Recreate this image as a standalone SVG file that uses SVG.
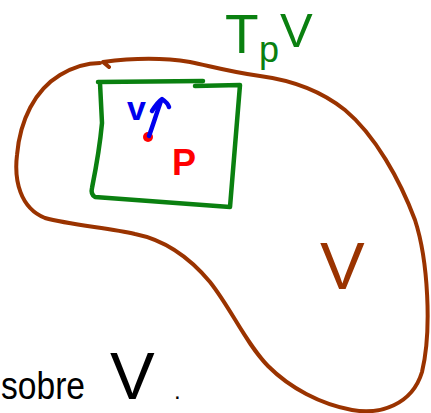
<svg xmlns="http://www.w3.org/2000/svg" width="431" height="413" viewBox="0 0 431 413">
<style>
.ink{fill:none;stroke-linecap:round;stroke-linejoin:round}
.brown{stroke:#9a3300;stroke-width:4}
.green{stroke:#0a8010;stroke-width:4.5}
.blue{stroke:#0000ee;stroke-width:4.5}
text{font-family:"Liberation Sans","DejaVu Sans",sans-serif}
</style>
<rect width="431" height="413" fill="#fff"/>
<g id="manifold">
<path class="ink brown" d="M109,67 L103,62 C125,59 160,57 190,62 C210,66 230,72 260,76 C290,80 320,90 345,110 C375,135 400,180 415,220 C428,260 432,330 422,372 C412,405 380,415 352,410 C320,404 290,388 268,366 C245,342 232,310 210,282 C190,258 165,240 135,234 C110,228 70,225 45,218 C20,208 14,180 17,155 C20,120 35,90 60,75 C75,66 88,63 100,63"/>
<text x="320" y="289" font-size="67" fill="#9a3300">V</text>
</g>
<g id="tangent-space">
<path class="ink green" d="M98,82 L203,81 M195,86 L240,85 L230,207 L95,197 C92,195 91,192 92,188 C96,168 100,145 102,123 L100,83"/>
<text fill="#0a8010"><tspan x="225" y="53" font-size="55">T</tspan><tspan x="259" y="62" font-size="36">p</tspan><tspan x="280" y="47" font-size="49">V</tspan></text>
</g>
<g id="point">
<circle cx="148" cy="137" r="5" fill="#ff0000"/>
<text x="172" y="175" font-size="36" font-weight="bold" fill="#ff0000">P</text>
</g>
<g id="vector">
<path class="ink blue" d="M149,136 C153,125 157,112 161,101 M152,111 C155,106 159,101 162,99 C165,101 168,104 169,107"/>
<text x="127" y="120" font-size="34" font-weight="bold" fill="#0000ee">v</text>
</g>
<g id="caption">
<text y="399" font-size="38" fill="#000"><tspan x="1" textLength="84" lengthAdjust="spacingAndGlyphs">sobre</tspan><tspan x="110" font-size="67">V</tspan><tspan x="174" font-size="24">.</tspan></text>
</g>
</svg>
